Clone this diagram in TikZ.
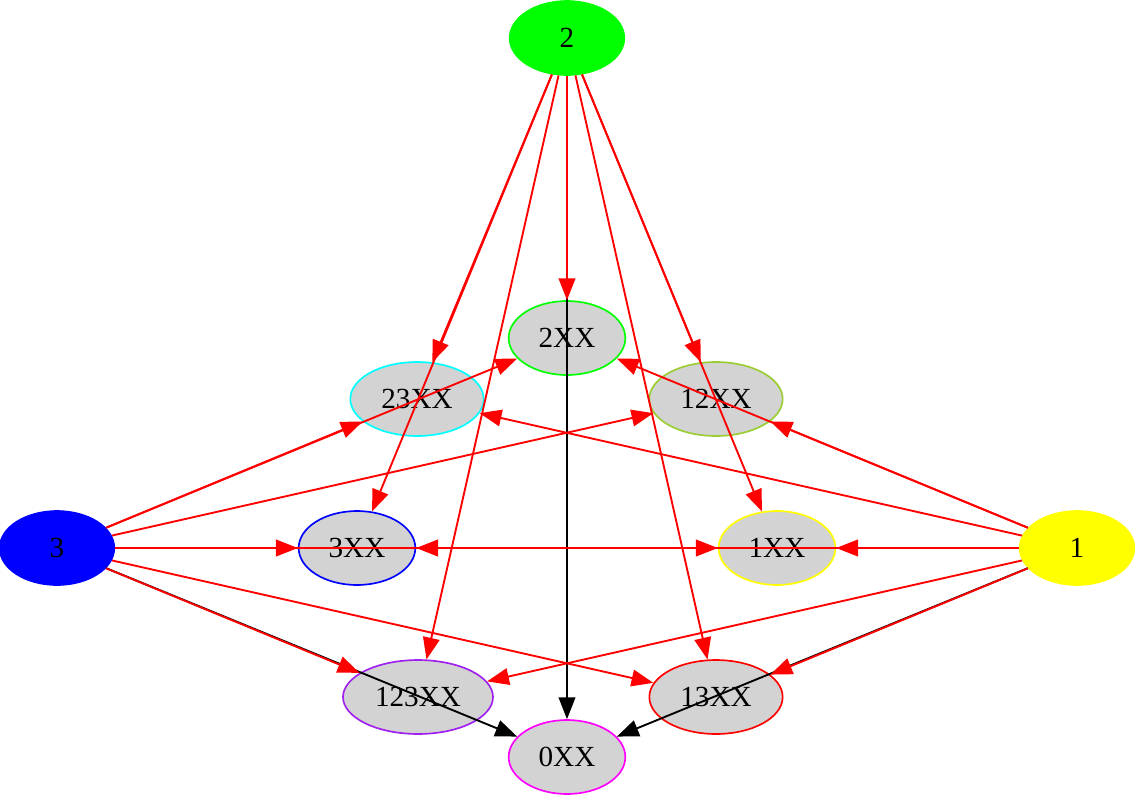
\documentclass[tikz,border=0pt]{standalone}
\usepackage{xcolor}
\usepackage{fontspec}
\setmainfont{Liberation Serif}
\usepackage{tikz}
\usetikzlibrary{shapes.geometric, arrows.meta}

\definecolor{gfill}{HTML}{D3D3D3}
\definecolor{ygreen}{HTML}{9ACD32}
\definecolor{vpurple}{HTML}{A020F0}
\definecolor{lgreen}{HTML}{00FF00}
\definecolor{lcyan}{HTML}{00FFFF}
\definecolor{lyellow}{HTML}{FFFF00}
\definecolor{lmagenta}{HTML}{FF00FF}
\definecolor{lblue}{HTML}{0000FF}
\definecolor{lred}{HTML}{FF0000}

\tikzset{
    st/.style={ellipse, draw, line width=0.8pt, inner sep=0pt,
        minimum width=#1, minimum height=35.5pt,
        font=\fontsize{14}{16}\selectfont},
    st/.default=55pt,
    sub/.style={st=#1, fill=gfill},
    sub/.default=56pt,
    tip/.style={-{Triangle[length=10.5pt,width=8pt]}, line width=0.9pt}
}

\begin{document}
\begin{tikzpicture}[x=0.48pt, y=-0.48pt]
        \useasboundingbox (0,0) rectangle (1135,797);
        \node[st, fill=lgreen, draw=lgreen] (two) at (567,38) {2};
        \node[st, fill=lblue, draw=lblue] (three) at (57,548) {3};
        \node[st, fill=lyellow, draw=lyellow] (one) at (1077,548) {1};
        \node[sub, draw=lgreen] (s2) at (567,338) {2XX};
        \node[sub=64pt, draw=lcyan] (s23) at (417,399) {23XX};
        \node[sub=64pt, draw=ygreen] (s12) at (716,399) {12XX};
        \node[sub, draw=lblue] (s3) at (357,548) {3XX};
        \node[sub, draw=lyellow] (s1) at (777,548) {1XX};
        \node[sub=72pt, draw=vpurple] (s123) at (418,697) {123XX};
        \node[sub=64pt, draw=lred] (s13) at (716,697) {13XX};
        \node[sub, draw=lmagenta] (s0) at (567,757) {0XX};
%
        \path[tip, black]
        (two) edge (s0)
        (three) edge (s0)
        (one) edge (s0);
%
        \path[tip, lred]
        (two) edge (s2)
            edge (s23)
            edge (s12)
            edge (s3)
            edge (s1)
            edge (s123)
            edge (s13)
        (three) edge (s2)
            edge (s23)
            edge (s12)
            edge (s3)
            edge (s1)
            edge (s123)
            edge (s13)
        (one) edge (s2)
            edge (s23)
            edge (s12)
            edge (s3)
            edge (s1)
            edge (s123)
            edge (s13);
\end{tikzpicture}
\end{document}
